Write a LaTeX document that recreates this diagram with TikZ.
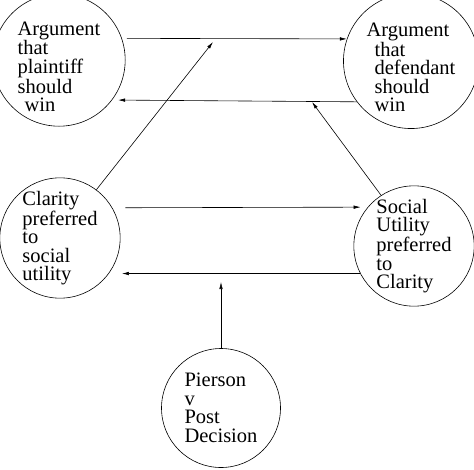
\documentclass[tikz,border=0pt]{standalone}
\usepackage{fontspec}
\setmainfont{Liberation Serif}
\usetikzlibrary{arrows.meta}
\newcommand\issue[3]{\node(#1)[issue] at (#2){#3};}
\newcommand\lift{\rule{0pt}{27pt}}

\begin{document}
\begin{tikzpicture}[x=1pt,y=-1pt,line width=.6pt,
    issue/.style={circle,draw,minimum size=119pt,inner sep=0pt,align=left,
        font=\fontsize{20.5}{18.5}\selectfont},
    link/.style={-{Latex[length=7pt,width=3.5pt]}}]
    \useasboundingbox (0,0) rectangle (474,469);
    \issue{pl}{59,60}{\lift Argument\\that\\plaintiff\\should\\\hspace*{7pt}win}
    \issue{df}{411,61}{\lift Argument\\\hspace*{8pt}that\\\hspace*{8pt}defendant\\\hspace*{8pt}should\\\hspace*{8pt}win}
    \issue{cl}{60,238}{Clarity\\preferred\\to\\social\\utility}
    \issue{su}{414,246}{Social\\Utility\\preferred\\to\\Clarity}
    \issue{pi}{221,408}{Pierson\\v\\Post\\Decision}
    \coordinate(ta) at (213,42);
    \coordinate(tb) at (312,102);
    \coordinate(tc) at (221,282);
    \draw[link,shorten <=5pt] (pl.19) -- (df.161);
    \draw[link,shorten >=6pt] (df.217) -- (pl.-37);
    \draw[link,shorten <=13pt,shorten >=7pt] (cl.30) -- (su.140);
    \draw[link,shorten >=13pt] (su.207) -- (cl.-36);
    \draw[link] (cl.53) -- (ta);
    \draw[link] (su.123) -- (tb);
    \draw[link] (pi.north) -- (tc);
\end{tikzpicture}
\end{document}
